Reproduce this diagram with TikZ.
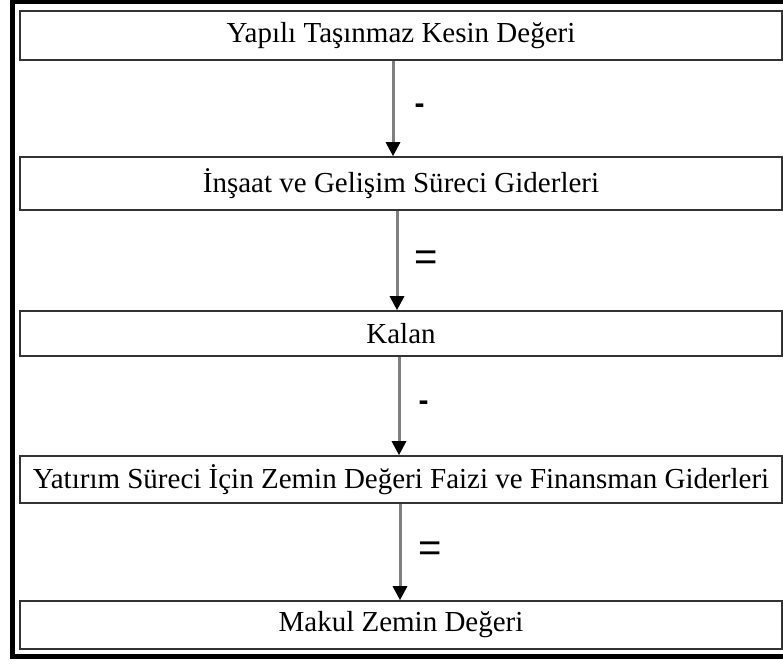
\documentclass[tikz,border=0pt]{standalone}
\usepackage{fontspec}
\setmainfont{Liberation Serif}
\newfontfamily\symfont{Liberation Sans}
\usetikzlibrary{positioning,arrows.meta}

\begin{document}
\begin{tikzpicture}[x=1pt,y=-1pt,
  box/.style={draw=black!80,line width=1.6pt,minimum width=762pt,inner sep=0pt,
    font=\fontsize{29}{34}\selectfont},
  flow/.style={draw=black!50,line width=3pt,
    -{Triangle[length=14pt,width=14pt,fill=black,color=black]}},
  minus/.style={font=\symfont\bfseries\fontsize{30}{34}\selectfont,inner sep=0pt},
  equal/.style={font=\symfont\fontsize{40}{44}\selectfont,inner sep=0pt}]
\useasboundingbox (0,0) rectangle (783,663);
\clip (0,0) rectangle (783,663);
\draw[line width=5pt] (12.5,2) rectangle (800,656.5);
% the five stages
\node[box,minimum height=49pt] (kesin) at (401,35.5) {Yapılı Taşınmaz Kesin Değeri};
\node[box,minimum height=53pt] (insaat) at (401,183.5) {İnşaat ve Gelişim Süreci Giderleri};
\node[box,minimum height=45pt] (kalan) at (401,333.5) {Kalan};
\node[box,minimum height=47pt] (faiz) at (401,479.5) {Yatırım Süreci İçin Zemin Değeri Faizi ve Finansman Giderleri};
\node[box,minimum height=48pt] (makul) at (401,625) {Makul Zemin Değeri};
% arrows between stages
\foreach \a/\b/\dx/\s/\sh/\t in {kesin/insaat/-8/minus/20/-, insaat/kalan/-4/equal/16/=, kalan/faiz/-2/minus/18/-, faiz/makul/-1/equal/17/=}{
  \draw[flow] ([xshift=\dx pt]\a.south) -- ([xshift=\dx pt]\b.north)
    node[midway,\s,right=\sh pt] {\t};
}
\end{tikzpicture}
\end{document}
